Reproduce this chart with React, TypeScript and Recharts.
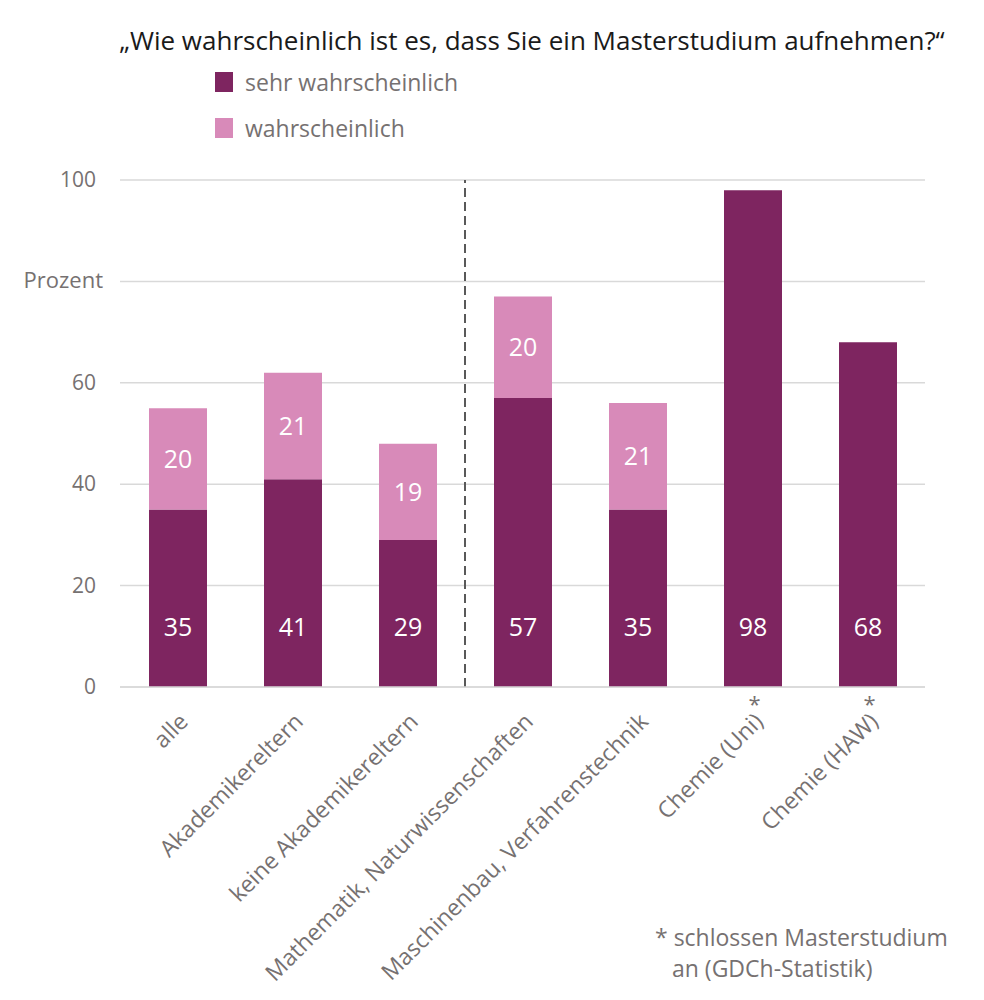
import { BarChart, Bar, XAxis, YAxis, CartesianGrid, ReferenceLine, LabelList } from "recharts";

const CATEGORIES = [
  "alle",
  "Akademikereltern",
  "keine Akademikereltern",
  "Mathematik, Naturwissenschaften",
  "Maschinenbau, Verfahrenstechnik",
  "Chemie (Uni)",
  "Chemie (HAW)",
];
const SEHR_WAHRSCHEINLICH = [35, 41, 29, 57, 35, 98, 68];
const WAHRSCHEINLICH = [20, 21, 19, 20, 21, null, null];
const STARRED = ["Chemie (Uni)", "Chemie (HAW)"];
const Y_TICKS = [0, 20, 40, 60, 80, 100];

const DARK = "#7E2560";
const LIGHT = "#D88AB9";
const GREY = "#767171";
const FONT = "'Open Sans', sans-serif";

const SERIES = [
  { key: "sehr", name: "sehr wahrscheinlich", color: DARK },
  { key: "wahr", name: "wahrscheinlich", color: LIGHT },
];

const data = CATEGORIES.map((name, i) => ({
  name,
  sehr: SEHR_WAHRSCHEINLICH[i],
  wahr: WAHRSCHEINLICH[i],
}));

function YTick(props: any) {
  const { x, y, payload } = props;
  const isProzent = payload.value === 80;
  return (
    <text
      x={isProzent ? x - 9 : x - 16}
      y={y}
      dy={7}
      textAnchor="end"
      fill={GREY}
      fontSize={isProzent ? 22 : 21}
      fontFamily={FONT}
    >
      {isProzent ? "Prozent" : payload.value}
    </text>
  );
}

function XTick(props: any) {
  const { x, y, payload } = props;
  const starred = STARRED.includes(payload.value);
  return (
    <g>
      <text
        transform={`translate(${x + 12},${y + 28}) rotate(-45)`}
        textAnchor="end"
        fill={GREY}
        fontSize={23}
        fontFamily={FONT}
      >
        {payload.value}
      </text>
      {starred && (
        <text x={x + 2} y={y + 17} textAnchor="middle" fill={GREY} fontSize={22} fontFamily={FONT}>
          *
        </text>
      )}
    </g>
  );
}

// dark labels sit at a fixed distance above the baseline
function BottomLabel(props: any) {
  const { x, y, width, height, value } = props;
  if (value == null) return null;
  return (
    <text
      x={x + width / 2}
      y={y + height - 60}
      dy={9}
      textAnchor="middle"
      fill="#ffffff"
      fontSize={25}
      fontFamily={FONT}
    >
      {value}
    </text>
  );
}

function CenterLabel(props: any) {
  const { x, y, width, height, value } = props;
  if (value == null) return null;
  return (
    <text
      x={x + width / 2}
      y={y + height / 2}
      dy={9}
      textAnchor="middle"
      fill="#ffffff"
      fontSize={25}
      fontFamily={FONT}
    >
      {value}
    </text>
  );
}

export default function App() {
  return (
    <div style={{ position: "absolute", left: 0, top: 0, width: 984, height: 1000, background: "#fff", fontFamily: FONT }}>
      <div
        style={{
          position: "absolute",
          left: 0,
          width: 984,
          top: 22,
          paddingLeft: 80,
          boxSizing: "border-box",
          textAlign: "center",
          fontSize: 26,
          color: "#1a1a1a",
          whiteSpace: "nowrap",
        }}
      >
        „Wie wahrscheinlich ist es, dass Sie ein Masterstudium aufnehmen?“
      </div>
      <div style={{ position: "absolute", left: 215, top: 59 }}>
        {SERIES.map((s) => (
          <div key={s.key} style={{ display: "flex", alignItems: "center", height: 46 }}>
            <span style={{ width: 18, height: 20, background: s.color, marginRight: 12 }} />
            <span style={{ color: GREY, fontSize: 23 }}>{s.name}</span>
          </div>
        ))}
      </div>
      <BarChart
        width={984}
        height={1000}
        data={data}
        margin={{ top: 180, right: 59, bottom: 312, left: 60 }}
        barSize={58}
      >
        <CartesianGrid vertical={false} stroke="#d9d9d9" strokeWidth={1.5} />
        <XAxis
          dataKey="name"
          interval={0}
          tickLine={false}
          axisLine={{ stroke: "#d9d9d9", strokeWidth: 1.5 }}
          tick={<XTick />}
          height={1}
        />
        <YAxis
          domain={[0, 100]}
          ticks={Y_TICKS}
          width={60}
          axisLine={false}
          tickLine={false}
          tick={<YTick />}
        />
        <ReferenceLine
          x="keine Akademikereltern"
          position="end"
          stroke="#595959"
          strokeWidth={2}
          strokeDasharray="9 5"
        />
        {SERIES.map((s) => (
          <Bar
            key={s.key}
            dataKey={s.key}
            name={s.name}
            stackId="a"
            fill={s.color}
            isAnimationActive={false}
          >
            <LabelList dataKey={s.key} content={s.key === "sehr" ? <BottomLabel /> : <CenterLabel />} />
          </Bar>
        ))}
      </BarChart>
      <div
        style={{
          position: "absolute",
          left: 655,
          top: 922,
          fontSize: 23,
          lineHeight: "31px",
          color: GREY,
        }}
      >
        * schlossen Masterstudium
        <br />
        <span style={{ paddingLeft: 17 }}>an (GDCh-Statistik)</span>
      </div>
    </div>
  );
}
